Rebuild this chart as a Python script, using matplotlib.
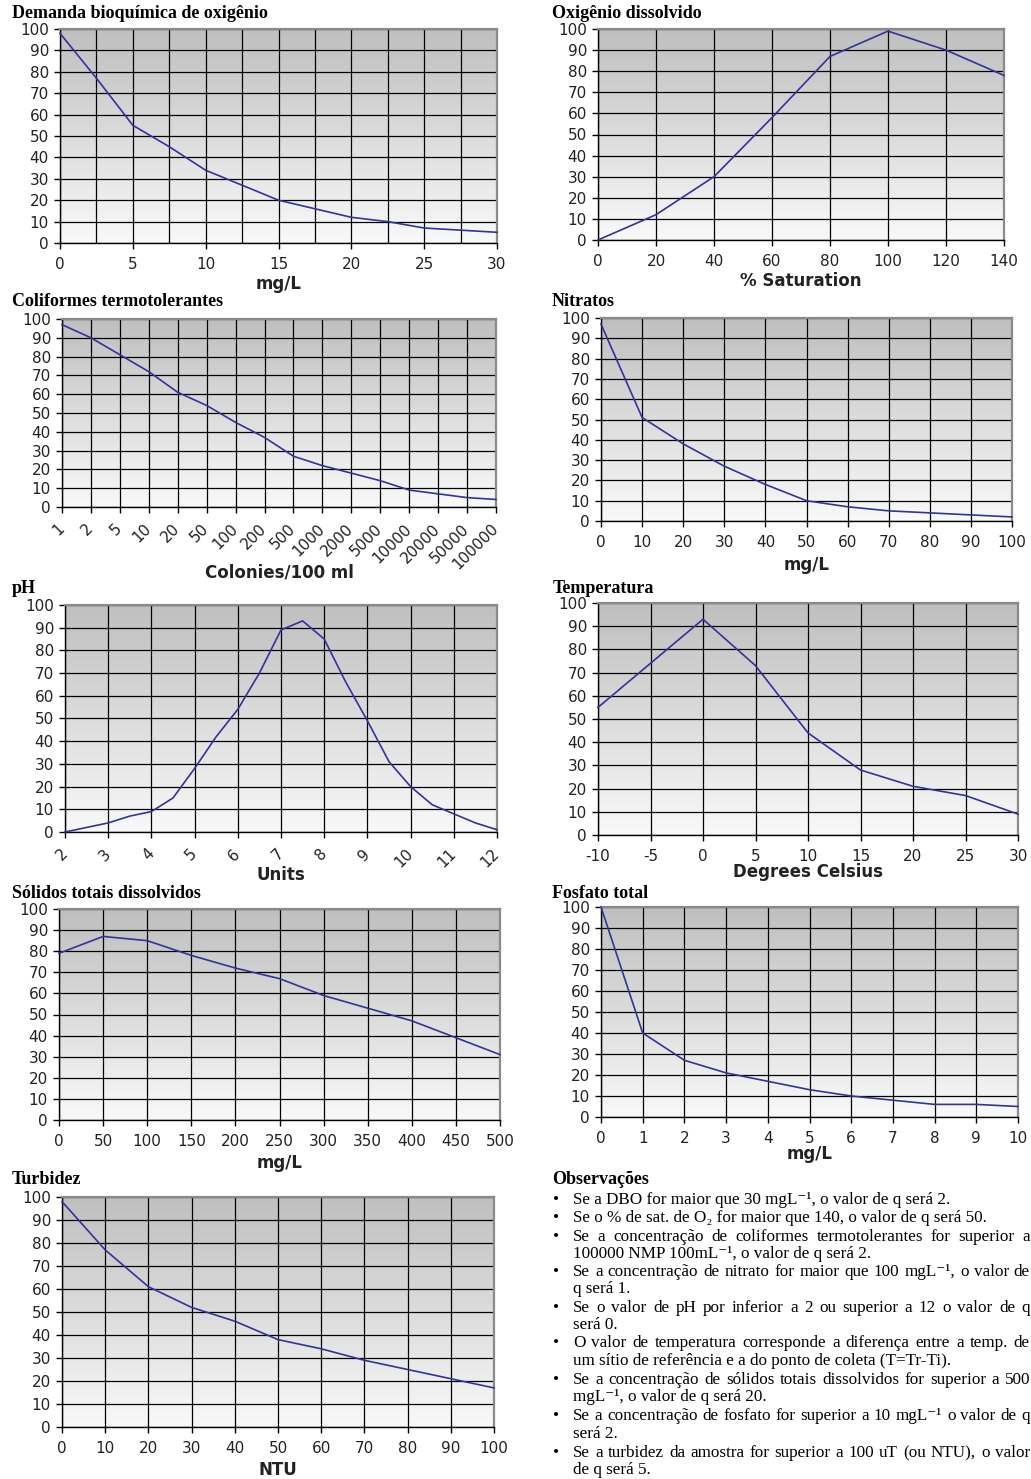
import numpy as np
import matplotlib
matplotlib.use('Agg')
import matplotlib.pyplot as plt
from matplotlib.colors import LinearSegmentedColormap

W, H = 1031, 1479

plt.rcParams['font.family'] = 'DejaVu Sans'
plt.rcParams['axes.unicode_minus'] = False

# --- data ---
dbo_x = [0, 2.5, 5, 7.5, 10, 12.5, 15, 17.5, 20, 22.5, 25, 27.5, 30]
dbo_q = [98, 77, 55, 45, 34, 27, 20, 16, 12, 10, 7, 6, 5]

od_x = [0, 20, 40, 60, 80, 100, 120, 140]
od_q = [0, 12, 30, 58, 87, 99, 90, 78]

coli_labels = ['1', '2', '5', '10', '20', '50', '100', '200', '500', '1000', '2000',
               '5000', '10000', '20000', '50000', '100000']
coli_q = [97, 90, 81, 72, 61, 54, 45, 37, 27, 22, 18, 14, 9, 7, 5, 4]

nit_x = [0, 10, 20, 30, 40, 50, 60, 70, 80, 90, 100]
nit_q = [97, 51, 38, 27, 18, 10, 7, 5, 4, 3, 2]

ph_x = [2, 2.5, 3, 3.5, 4, 4.5, 5, 5.5, 6, 6.5, 7, 7.5, 8, 8.5, 9, 9.5, 10, 10.5, 11, 11.5, 12]
ph_q = [0, 2, 4, 7, 9, 15, 28, 42, 54, 70, 89, 93, 85, 66, 49, 31, 20, 12, 8, 4, 1]

temp_x = [-10, -5, 0, 5, 10, 15, 20, 25, 30]
temp_q = [55, 74, 93, 73, 44, 28, 21, 17, 9]

std_x = [0, 50, 100, 150, 200, 250, 300, 350, 400, 450, 500]
std_q = [79, 87, 85, 78, 72, 67, 59, 53, 47, 39, 31]

fos_x = [0, 1, 2, 3, 4, 5, 6, 7, 8, 9, 10]
fos_q = [100, 40, 27, 21, 17, 13, 10, 8, 6, 6, 5]

tur_x = [0, 10, 20, 30, 40, 50, 60, 70, 80, 90, 100]
tur_q = [98, 77, 61, 52, 46, 38, 34, 29, 25, 21, 17]

# (text, starts a bullet, justified line)
obs_lines = [
    ('Se a DBO for maior que 30 mgL⁻¹, o valor de q será 2.', True, False),
    ('Se o % de sat. de O₂ for maior que 140, o valor de q será 50.', True, False),
    ('Se a concentração de coliformes termotolerantes for superior a', True, True),
    ('100000 NMP 100mL⁻¹, o valor de q será 2.', False, False),
    ('Se a concentração de nitrato for maior que 100 mgL⁻¹, o valor de', True, True),
    ('q será 1.', False, False),
    ('Se o valor de pH por inferior a 2 ou superior a 12 o valor de q', True, True),
    ('será 0.', False, False),
    ('O valor de temperatura corresponde a diferença entre a temp. de', True, True),
    ('um sítio de referência e a do ponto de coleta (T=Tr-Ti).', False, False),
    ('Se a concentração de sólidos totais dissolvidos for superior a 500', True, True),
    ('mgL⁻¹, o valor de q será 20.', False, False),
    ('Se a concentração de fosfato for superior a 10 mgL⁻¹ o valor de q', True, True),
    ('será 2.', False, False),
    ('Se a turbidez da amostra for superior a 100 uT (ou NTU), o valor', True, True),
    ('de q será 5.', False, False),
]
obs_y = [1200, 1218, 1237, 1254, 1272, 1289, 1308, 1325, 1343, 1361, 1380, 1397,
         1416, 1434, 1453, 1470]

fig = plt.figure(figsize=(W / 100, H / 100), dpi=100)
fig.patch.set_facecolor('white')

grad = LinearSegmentedColormap.from_list('g', ['#f9f9f9', '#bfbfbf'])
line_color = '#333399'
serif = ['Liberation Serif', 'DejaVu Serif']
tick_fs = 11
label_fs = 12
title_fs = 13
obs_fs = 12.3


def make_ax(l, t, r, b, title, tx, ty, xlabel, ly):
    ax = fig.add_axes([l / W, 1 - b / H, (r - l) / W, (b - t) / H])
    ax.imshow(np.linspace(0, 1, 256).reshape(-1, 1), cmap=grad, origin='lower',
              extent=[0, 1, 0, 1], transform=ax.transAxes, aspect='auto', zorder=0)
    ax.set_ylim(0, 100)
    ax.set_yticks(np.arange(0, 101, 10))
    ax.grid(True, which='both', color='black', linewidth=0.9)
    for s in ['left', 'bottom']:
        ax.spines[s].set_color('black')
        ax.spines[s].set_linewidth(1.0)
    for s in ['top', 'right']:
        ax.spines[s].set_color('#8a8a8a')
        ax.spines[s].set_linewidth(1.6)
    ax.tick_params(axis='both', which='major', length=4, width=1, labelsize=tick_fs,
                   direction='out', labelcolor='#222222')
    ax.tick_params(axis='y', pad=4)
    ax.tick_params(axis='x', pad=6)
    ax.tick_params(axis='x', which='minor', length=0)
    fig.text(tx / W, 1 - ty / H, title, family=serif, weight='bold', fontsize=title_fs,
             ha='left', va='center')
    fig.text((l + r) / 2 / W, 1 - ly / H, xlabel, weight='bold', fontsize=label_fs,
             ha='center', va='center', color='#222222')
    return ax


# Demanda bioquimica de oxigenio
ax = make_ax(60, 29, 497, 243, 'Demanda bioquímica de oxigênio', 12, 13, 'mg/L', 284)
ax.plot(dbo_x, dbo_q, color=line_color, lw=1.2, zorder=3, clip_on=False)
ax.set_xlim(0, 30)
ax.set_xticks(np.arange(0, 31, 5))
ax.set_xticks(np.arange(0, 31, 2.5), minor=True)

# Oxigenio dissolvido
ax = make_ax(598, 29, 1004, 240, 'Oxigênio dissolvido', 552, 13, '% Saturation', 281)
ax.plot(od_x, od_q, color=line_color, lw=1.2, zorder=3, clip_on=False)
ax.set_xlim(0, 140)
ax.set_xticks(np.arange(0, 141, 20))

# Coliformes
ax = make_ax(62, 319, 496, 507, 'Coliformes termotolerantes', 12, 302, 'Colonies/100 ml', 573)
pos = np.arange(len(coli_labels))
ax.plot(pos, coli_q, color=line_color, lw=1.2, zorder=3, clip_on=False)
ax.set_xlim(0, len(coli_labels) - 1)
ax.set_xticks(pos)
ax.set_xticklabels(coli_labels, rotation=45, ha='right', va='center', rotation_mode='anchor')
ax.tick_params(axis='x', pad=10)

# Nitratos
ax = make_ax(601, 318, 1012, 521, 'Nitratos', 552, 302, 'mg/L', 565)
ax.plot(nit_x, nit_q, color=line_color, lw=1.2, zorder=3, clip_on=False)
ax.set_xlim(0, 100)
ax.set_xticks(np.arange(0, 101, 10))

# pH
ax = make_ax(65, 605, 497, 832, 'pH', 12, 589, 'Units', 875)
ax.plot(ph_x, ph_q, color=line_color, lw=1.2, zorder=3, clip_on=False)
ax.set_xlim(2, 12)
ax.set_xticks(np.arange(2, 13, 1))
ax.set_xticklabels([str(v) for v in range(2, 13)], rotation=45, ha='right', va='center',
                   rotation_mode='anchor')
ax.tick_params(axis='x', pad=10)

# Temperatura
ax = make_ax(598, 603, 1018, 835, 'Temperatura', 553, 589, 'Degrees Celsius', 872)
ax.plot(temp_x, temp_q, color=line_color, lw=1.2, zorder=3, clip_on=False)
ax.set_xlim(-10, 30)
ax.set_xticks(np.arange(-10, 31, 5))

# Solidos totais dissolvidos
ax = make_ax(59, 909, 500, 1120, 'Sólidos totais dissolvidos', 12, 893, 'mg/L', 1163)
ax.plot(std_x, std_q, color=line_color, lw=1.2, zorder=3, clip_on=False)
ax.set_xlim(0, 500)
ax.set_xticks(np.arange(0, 501, 50))

# Fosfato total
ax = make_ax(601, 907, 1018, 1117, 'Fosfato total', 552, 893, 'mg/L', 1154)
ax.plot(fos_x, fos_q, color=line_color, lw=1.2, zorder=3, clip_on=False)
ax.set_xlim(0, 10)
ax.set_xticks(np.arange(0, 11, 1))

# Turbidez
ax = make_ax(62, 1197, 494, 1427, 'Turbidez', 12, 1180, 'NTU', 1470)
ax.plot(tur_x, tur_q, color=line_color, lw=1.2, zorder=3, clip_on=False)
ax.set_xlim(0, 100)
ax.set_xticks(np.arange(0, 101, 10))

# Observacoes
fig.text(552 / W, 1 - 1180 / H, 'Observações', family=serif, weight='bold', fontsize=title_fs,
         ha='left', va='center')

renderer = fig.canvas.get_renderer()
x0, x1 = 573, 1030
for (txt, bullet, just), y in zip(obs_lines, obs_y):
    if bullet:
        fig.text(556 / W, 1 - y / H, '•', family=serif, fontsize=obs_fs, ha='center', va='center')
    if just:
        # spread words so the line fills the column, like justified text
        words = txt.split(' ')
        items = [fig.text(0, 1 - y / H, w, family=serif, fontsize=obs_fs, ha='left', va='center')
                 for w in words]
        widths = [t.get_window_extent(renderer).width for t in items]
        gap = (x1 - x0 - sum(widths)) / (len(words) - 1)
        x = x0
        for t, w in zip(items, widths):
            t.set_x(x / W)
            x += w + gap
    else:
        fig.text(x0 / W, 1 - y / H, txt, family=serif, fontsize=obs_fs, ha='left', va='center')

fig.savefig('out.png', dpi=100)
